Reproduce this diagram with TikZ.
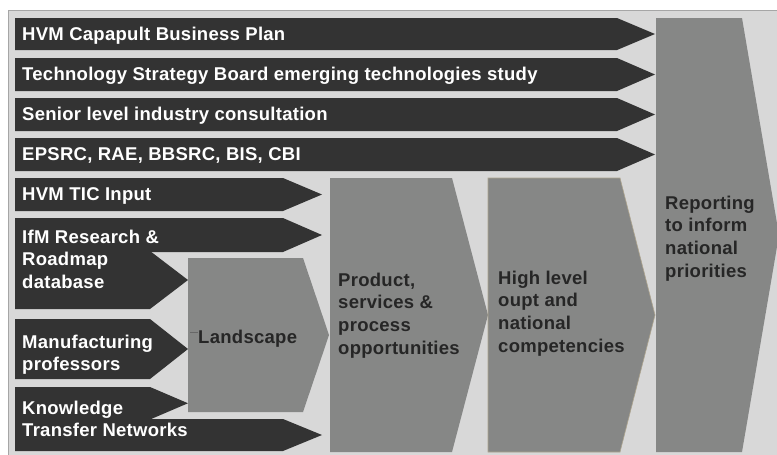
\documentclass[tikz,border=0pt]{standalone}
\usepackage{fontspec}
\setmainfont{Liberation Sans}[LetterSpace=1.5]
\definecolor{panel}{HTML}{D8D8D8}
\definecolor{panelrule}{HTML}{A6A6A6}
\definecolor{darkfill}{HTML}{333333}
\definecolor{midfill}{HTML}{868786}
\definecolor{inktext}{HTML}{262626}
\definecolor{tanrule}{HTML}{ADA48E}
\newcommand{\inarrow}[5]{% x0, top, bottom, body end, tip
  \fill[darkfill] (#1,#2) -- (#4,#2) -- (#5,{(#2+#3)/2}) -- (#4,#3) -- (#1,#3) -- cycle;}
\tikzset{
  lighttext/.style={anchor=base west, inner sep=0pt, text=white,
    font=\fontsize{18.5}{22.7}\selectfont\bfseries},
  darktext/.style={lighttext, text=inktext},
}
\newcommand{\stack}[1]{\begin{tabular}[t]{@{}l@{}}#1\end{tabular}}
\begin{document}
\begin{tikzpicture}[x=1pt, y=-1pt]
  \useasboundingbox (0,0) rectangle (777,455);
  \begin{scope}
    \clip (0,0) rectangle (777,455);
    % panel behind everything
    \fill[white] (0,0) rectangle (777,455);
    \filldraw[fill=panel, draw=panelrule, line width=0.8pt] (8,10) rectangle (790,470);

    % input arrows
    \inarrow{15}{18}{50}{617}{655}
    \inarrow{15}{58}{91}{617}{655}
    \inarrow{15}{98}{131}{617}{655}
    \inarrow{15}{138}{171}{617}{655}
    \inarrow{15}{178}{211}{283}{322}
    \inarrow{15}{218}{252}{283}{322}
    \inarrow{15}{251}{309}{150}{188}
    \inarrow{15}{319}{379}{150}{188}
    \inarrow{15}{387}{419.5}{150}{188}
    \inarrow{15}{419}{451}{283}{322}

    % process stages
    \fill[midfill] (188,258) -- (303,258) -- (329,335) -- (303,412) -- (188,412) -- cycle;
    \fill[midfill] (330,178) -- (452,178) -- (488,315) -- (452,452) -- (330,452) -- cycle;
    \filldraw[fill=midfill, draw=tanrule, line width=0.6pt]
      (488,178) -- (620,178) -- (655,315) -- (620,452) -- (488,452) -- cycle;
    \fill[midfill] (656,18) -- (742,18) -- (779,235) -- (742,452) -- (656,452) -- cycle;
  \end{scope}

  % input labels
  \node[lighttext] (bizplan) at (22,40) {HVM Capapult Business Plan};
  \node[lighttext] (tsb) at (22,80) {Technology Strategy Board emerging technologies study};
  \node[lighttext] (senior) at (22,120) {Senior level industry consultation};
  \node[lighttext] (councils) at (22,160) {EPSRC, RAE, BBSRC, BIS, CBI};
  \node[lighttext] (tic) at (22,200) {HVM TIC Input};
  \node[lighttext] (ifm) at (22,243) {\stack{IfM Research \&\\Roadmap\\database}};
  \node[lighttext] (profs) at (22,348) {\stack{Manufacturing\\professors}};
  \node[lighttext] (ktn) at (22,414) {\stack{Knowledge\\Transfer Networks}};

  % stage labels
  \node[darktext] (landscape) at (198,343) {Landscape};
  \coordinate (tick) at (190,332);
  \draw[inktext!70, line width=0.5pt] (tick) -- (landscape.west |- tick);
  \node[darktext] (product) at (338,286) {\stack{Product,\\services \&\\process\\opportunities}};
  \node[darktext] (highlevel) at (498,284) {\stack{High level\\oupt and\\national\\competencies}};
  \node[darktext] (reporting) at (665,209) {\stack{Reporting\\to inform\\national\\priorities}};
\end{tikzpicture}
\end{document}
